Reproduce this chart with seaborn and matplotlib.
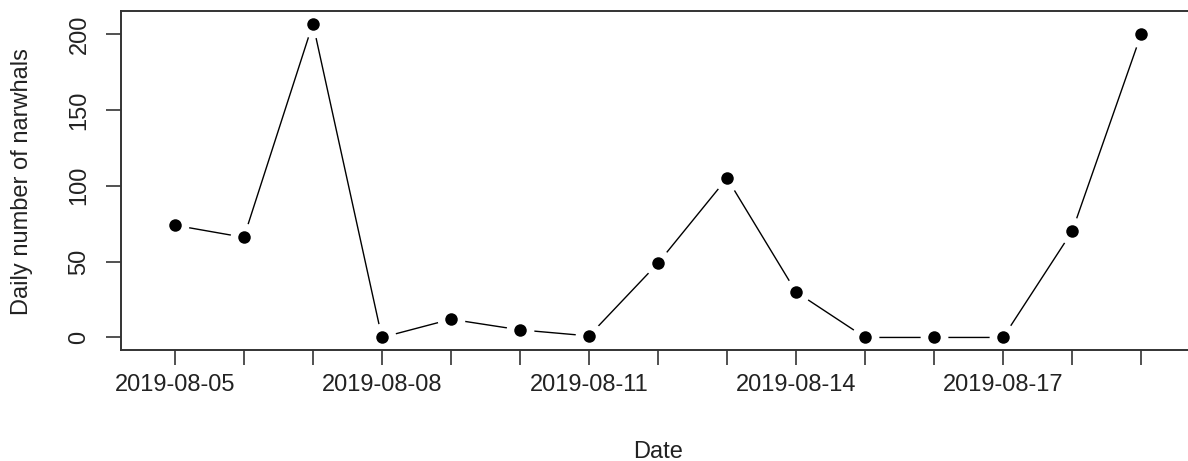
import matplotlib
matplotlib.use("Agg")
import matplotlib.pyplot as plt
import pandas as pd
import seaborn as sns

# daily narwhal counts
dates = pd.date_range("2019-08-05", "2019-08-19", freq="D")
counts = [74, 66, 207, 0, 12, 5, 1, 49, 105, 30, 0, 0, 0, 70, 200]
yticks = [0, 50, 100, 150, 200]
label_dates = ["2019-08-05", "2019-08-08", "2019-08-11", "2019-08-14", "2019-08-17"]

df = pd.DataFrame({"date": dates, "count": counts})

sns.set_style("ticks")
plt.rcParams["font.family"] = ["Liberation Sans", "DejaVu Sans"]
plt.rcParams["font.size"] = 17

W, H = 1188, 461
fig = plt.figure(figsize=(W / 100, H / 100), dpi=100)
# R-style plot region: box from x=121 to ~1195 (cropped), y=11 to 350
ax = fig.add_axes([121 / W, (H - 350) / H, (1195 - 121) / W, 339 / H])

# type="b": points with gaps in the connecting line
sns.lineplot(data=df, x="date", y="count", ax=ax, color="black", linewidth=1.0,
             marker="o", markersize=9, markerfacecolor="white",
             markeredgecolor="white", markeredgewidth=11)
ax.plot(df["date"], df["count"], "o", color="black", markersize=9,
        markeredgewidth=0, zorder=5)

pad = pd.Timedelta(days=0.78)
ax.set_xlim(dates[0] - pad, dates[-1] + pad)
ax.set_ylim(-8.28, 215.28)

ax.set_xticks(dates)
ax.set_xticklabels([d.strftime("%Y-%m-%d") if d.strftime("%Y-%m-%d") in label_dates else ""
                    for d in dates])
ax.set_yticks(yticks)
ax.set_yticklabels([str(v) for v in yticks], rotation=90, va="center")

ax.tick_params(axis="both", direction="out", length=11, width=1.1, colors="#222222",
               labelcolor="#222222")
ax.tick_params(axis="x", pad=6)
ax.tick_params(axis="y", pad=11)

for side in ["left", "bottom", "top"]:
    ax.spines[side].set_visible(True)
    ax.spines[side].set_color("#333333")
    ax.spines[side].set_linewidth(1.4)
ax.spines["right"].set_visible(False)

ax.set_xlabel("")
ax.set_ylabel("")
fig.text(658 / W, 1 - 452 / H, "Date", ha="center", va="center", color="#222222")
fig.text(22 / W, 1 - 182 / H, "Daily number of narwhals", ha="center", va="center",
         rotation=90, color="#222222")

fig.savefig("out.png", dpi=100, facecolor="white")
